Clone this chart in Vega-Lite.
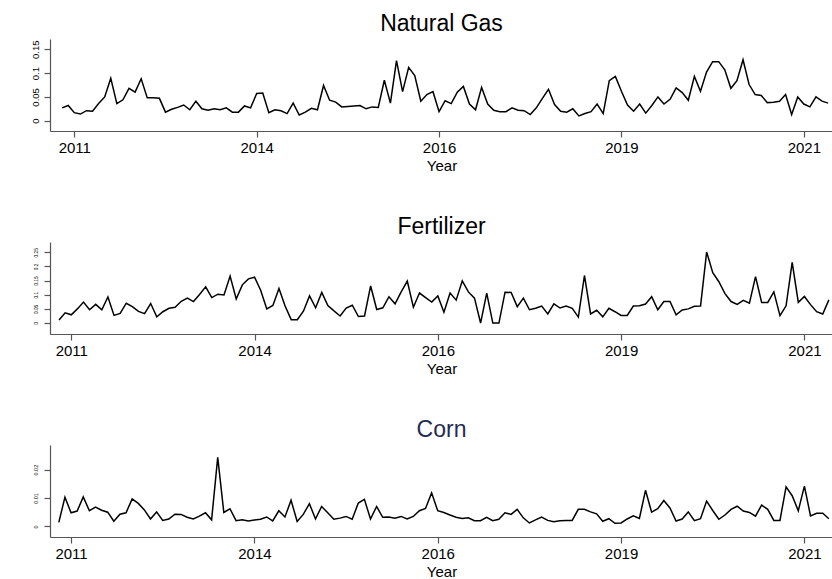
{
  "$schema": "https://vega.github.io/schema/vega-lite/v6.json",
  "padding": {"left": 29, "top": 13, "right": 0, "bottom": 0},
  "background": "white",
  "data": {"values": [
    {"year":2010.8333,"gas":0.027,"fert":0.011,"corn":0.0014},
    {"year":2010.9167,"gas":0.032,"fert":0.036,"corn":0.0103},
    {"year":2011.0,"gas":0.017,"fert":0.029,"corn":0.0048},
    {"year":2011.0833,"gas":0.014,"fert":0.050,"corn":0.0054},
    {"year":2011.1667,"gas":0.021,"fert":0.074,"corn":0.0104},
    {"year":2011.25,"gas":0.020,"fert":0.047,"corn":0.0055},
    {"year":2011.3333,"gas":0.036,"fert":0.066,"corn":0.0068},
    {"year":2011.4167,"gas":0.050,"fert":0.047,"corn":0.0057},
    {"year":2011.5,"gas":0.089,"fert":0.092,"corn":0.0050},
    {"year":2011.5833,"gas":0.036,"fert":0.027,"corn":0.0018},
    {"year":2011.6667,"gas":0.044,"fert":0.034,"corn":0.0043},
    {"year":2011.75,"gas":0.068,"fert":0.070,"corn":0.0048},
    {"year":2011.8333,"gas":0.060,"fert":0.058,"corn":0.0097},
    {"year":2011.9167,"gas":0.088,"fert":0.041,"corn":0.0081},
    {"year":2012.0,"gas":0.048,"fert":0.033,"corn":0.0058},
    {"year":2012.0833,"gas":0.048,"fert":0.069,"corn":0.0026},
    {"year":2012.1667,"gas":0.047,"fert":0.022,"corn":0.0051},
    {"year":2012.25,"gas":0.018,"fert":0.040,"corn":0.0021},
    {"year":2012.3333,"gas":0.024,"fert":0.052,"corn":0.0026},
    {"year":2012.4167,"gas":0.028,"fert":0.056,"corn":0.0043},
    {"year":2012.5,"gas":0.033,"fert":0.077,"corn":0.0042},
    {"year":2012.5833,"gas":0.023,"fert":0.088,"corn":0.0032},
    {"year":2012.6667,"gas":0.041,"fert":0.076,"corn":0.0026},
    {"year":2012.75,"gas":0.025,"fert":0.101,"corn":0.0036},
    {"year":2012.8333,"gas":0.022,"fert":0.128,"corn":0.0048},
    {"year":2012.9167,"gas":0.025,"fert":0.090,"corn":0.0023},
    {"year":2013.0,"gas":0.023,"fert":0.102,"corn":0.0243},
    {"year":2013.0833,"gas":0.027,"fert":0.099,"corn":0.0049},
    {"year":2013.1667,"gas":0.018,"fert":0.166,"corn":0.0062},
    {"year":2013.25,"gas":0.018,"fert":0.085,"corn":0.0020},
    {"year":2013.3333,"gas":0.031,"fert":0.135,"corn":0.0023},
    {"year":2013.4167,"gas":0.027,"fert":0.156,"corn":0.0019},
    {"year":2013.5,"gas":0.057,"fert":0.162,"corn":0.0022},
    {"year":2013.5833,"gas":0.058,"fert":0.116,"corn":0.0025},
    {"year":2013.6667,"gas":0.017,"fert":0.050,"corn":0.0033},
    {"year":2013.75,"gas":0.023,"fert":0.062,"corn":0.0019},
    {"year":2013.8333,"gas":0.021,"fert":0.122,"corn":0.0055},
    {"year":2013.9167,"gas":0.015,"fert":0.060,"corn":0.0033},
    {"year":2014.0,"gas":0.037,"fert":0.012,"corn":0.0092},
    {"year":2014.0833,"gas":0.012,"fert":0.012,"corn":0.0017},
    {"year":2014.1667,"gas":0.018,"fert":0.042,"corn":0.0042},
    {"year":2014.25,"gas":0.026,"fert":0.096,"corn":0.0080},
    {"year":2014.3333,"gas":0.023,"fert":0.054,"corn":0.0026},
    {"year":2014.4167,"gas":0.074,"fert":0.108,"corn":0.0070},
    {"year":2014.5,"gas":0.043,"fert":0.062,"corn":0.0048},
    {"year":2014.5833,"gas":0.039,"fert":0.043,"corn":0.0025},
    {"year":2014.6667,"gas":0.029,"fert":0.025,"corn":0.0029},
    {"year":2014.75,"gas":0.030,"fert":0.053,"corn":0.0035},
    {"year":2014.8333,"gas":0.031,"fert":0.063,"corn":0.0025},
    {"year":2014.9167,"gas":0.032,"fert":0.023,"corn":0.0082},
    {"year":2015.0,"gas":0.025,"fert":0.025,"corn":0.0095},
    {"year":2015.0833,"gas":0.029,"fert":0.131,"corn":0.0026},
    {"year":2015.1667,"gas":0.028,"fert":0.048,"corn":0.0070},
    {"year":2015.25,"gas":0.085,"fert":0.054,"corn":0.0032},
    {"year":2015.3333,"gas":0.037,"fert":0.093,"corn":0.0033},
    {"year":2015.4167,"gas":0.126,"fert":0.068,"corn":0.0029},
    {"year":2015.5,"gas":0.061,"fert":0.110,"corn":0.0035},
    {"year":2015.5833,"gas":0.112,"fert":0.148,"corn":0.0026},
    {"year":2015.6667,"gas":0.095,"fert":0.056,"corn":0.0035},
    {"year":2015.75,"gas":0.041,"fert":0.106,"corn":0.0055},
    {"year":2015.8333,"gas":0.055,"fert":0.090,"corn":0.0063},
    {"year":2015.9167,"gas":0.061,"fert":0.074,"corn":0.0118},
    {"year":2016.0,"gas":0.019,"fert":0.096,"corn":0.0055},
    {"year":2016.0833,"gas":0.042,"fert":0.038,"corn":0.0049},
    {"year":2016.1667,"gas":0.036,"fert":0.106,"corn":0.0040},
    {"year":2016.25,"gas":0.060,"fert":0.081,"corn":0.0032},
    {"year":2016.3333,"gas":0.072,"fert":0.149,"corn":0.0028},
    {"year":2016.4167,"gas":0.035,"fert":0.110,"corn":0.0030},
    {"year":2016.5,"gas":0.023,"fert":0.088,"corn":0.0020},
    {"year":2016.5833,"gas":0.070,"fert":0.000,"corn":0.0020},
    {"year":2016.6667,"gas":0.035,"fert":0.106,"corn":0.0032},
    {"year":2016.75,"gas":0.022,"fert":0.000,"corn":0.0020},
    {"year":2016.8333,"gas":0.019,"fert":0.000,"corn":0.0025},
    {"year":2016.9167,"gas":0.019,"fert":0.109,"corn":0.0048},
    {"year":2017.0,"gas":0.027,"fert":0.108,"corn":0.0042},
    {"year":2017.0833,"gas":0.022,"fert":0.058,"corn":0.0060},
    {"year":2017.1667,"gas":0.021,"fert":0.088,"corn":0.0030},
    {"year":2017.25,"gas":0.013,"fert":0.047,"corn":0.0012},
    {"year":2017.3333,"gas":0.027,"fert":0.052,"corn":0.0023},
    {"year":2017.4167,"gas":0.047,"fert":0.060,"corn":0.0033},
    {"year":2017.5,"gas":0.066,"fert":0.032,"corn":0.0021},
    {"year":2017.5833,"gas":0.034,"fert":0.068,"corn":0.0016},
    {"year":2017.6667,"gas":0.020,"fert":0.053,"corn":0.0020},
    {"year":2017.75,"gas":0.018,"fert":0.060,"corn":0.0021},
    {"year":2017.8333,"gas":0.025,"fert":0.052,"corn":0.0021},
    {"year":2017.9167,"gas":0.010,"fert":0.021,"corn":0.0060},
    {"year":2018.0,"gas":0.015,"fert":0.168,"corn":0.0060},
    {"year":2018.0833,"gas":0.019,"fert":0.032,"corn":0.0051},
    {"year":2018.1667,"gas":0.035,"fert":0.045,"corn":0.0044},
    {"year":2018.25,"gas":0.015,"fert":0.022,"corn":0.0018},
    {"year":2018.3333,"gas":0.084,"fert":0.052,"corn":0.0027},
    {"year":2018.4167,"gas":0.093,"fert":0.040,"corn":0.0011},
    {"year":2018.5,"gas":0.062,"fert":0.027,"corn":0.0012},
    {"year":2018.5833,"gas":0.033,"fert":0.027,"corn":0.0026},
    {"year":2018.6667,"gas":0.020,"fert":0.060,"corn":0.0037},
    {"year":2018.75,"gas":0.035,"fert":0.061,"corn":0.0028},
    {"year":2018.8333,"gas":0.016,"fert":0.067,"corn":0.0127},
    {"year":2018.9167,"gas":0.032,"fert":0.093,"corn":0.0050},
    {"year":2019.0,"gas":0.050,"fert":0.047,"corn":0.0062},
    {"year":2019.0833,"gas":0.035,"fert":0.076,"corn":0.0091},
    {"year":2019.1667,"gas":0.045,"fert":0.076,"corn":0.0065},
    {"year":2019.25,"gas":0.069,"fert":0.029,"corn":0.0019},
    {"year":2019.3333,"gas":0.059,"fert":0.046,"corn":0.0026},
    {"year":2019.4167,"gas":0.043,"fert":0.050,"corn":0.0051},
    {"year":2019.5,"gas":0.093,"fert":0.059,"corn":0.0020},
    {"year":2019.5833,"gas":0.062,"fert":0.060,"corn":0.0027},
    {"year":2019.6667,"gas":0.102,"fert":0.251,"corn":0.0089},
    {"year":2019.75,"gas":0.124,"fert":0.178,"corn":0.0056},
    {"year":2019.8333,"gas":0.124,"fert":0.146,"corn":0.0025},
    {"year":2019.9167,"gas":0.107,"fert":0.104,"corn":0.0040},
    {"year":2020.0,"gas":0.068,"fert":0.076,"corn":0.0060},
    {"year":2020.0833,"gas":0.084,"fert":0.066,"corn":0.0071},
    {"year":2020.1667,"gas":0.128,"fert":0.080,"corn":0.0054},
    {"year":2020.25,"gas":0.076,"fert":0.070,"corn":0.0049},
    {"year":2020.3333,"gas":0.055,"fert":0.164,"corn":0.0036},
    {"year":2020.4167,"gas":0.053,"fert":0.073,"corn":0.0075},
    {"year":2020.5,"gas":0.038,"fert":0.073,"corn":0.0060},
    {"year":2020.5833,"gas":0.039,"fert":0.110,"corn":0.0021},
    {"year":2020.6667,"gas":0.041,"fert":0.026,"corn":0.0021},
    {"year":2020.75,"gas":0.055,"fert":0.061,"corn":0.0139},
    {"year":2020.8333,"gas":0.013,"fert":0.214,"corn":0.0108},
    {"year":2020.9167,"gas":0.050,"fert":0.073,"corn":0.0055},
    {"year":2021.0,"gas":0.035,"fert":0.094,"corn":0.0142},
    {"year":2021.0833,"gas":0.029,"fert":0.065,"corn":0.0037},
    {"year":2021.1667,"gas":0.050,"fert":0.040,"corn":0.0046},
    {"year":2021.25,"gas":0.041,"fert":0.032,"corn":0.0046},
    {"year":2021.3333,"gas":0.037,"fert":0.082,"corn":0.0027}
  ]},
  "spacing": 43,
  "vconcat": [
    {
      "width": 783,
      "height": 92,
      "title": {"text": "Natural Gas"},
      "mark": {"type": "line", "color": "black", "strokeWidth": 1.5},
      "encoding": {
        "x": {"field": "year", "type": "quantitative",
              "scale": {"domain": [2010.667, 2021.40], "nice": false, "zero": false},
              "axis": {"values": [2011, 2013.5, 2016, 2018.5, 2021], "format": ".0f", "title": "Year"}},
        "y": {"field": "gas", "type": "quantitative",
              "scale": {"domain": [-0.0216, 0.1716], "nice": false, "zero": false},
              "axis": {"values": [0, 0.05, 0.1, 0.15], "format": ".2~f", "labelFontSize": 9.5, "labelPadding": 4}}
      }
    },
    {
      "width": 783,
      "height": 92,
      "title": {"text": "Fertilizer"},
      "mark": {"type": "line", "color": "black", "strokeWidth": 1.5},
      "encoding": {
        "x": {"field": "year", "type": "quantitative",
              "scale": {"domain": [2010.71, 2021.39], "nice": false, "zero": false},
              "axis": {"values": [2011, 2013.5, 2016, 2018.5, 2021], "format": ".0f", "title": "Year"}},
        "y": {"field": "fert", "type": "quantitative",
              "scale": {"domain": [-0.0387, 0.2863], "nice": false, "zero": false},
              "axis": {"values": [0, 0.05, 0.1, 0.15, 0.2, 0.25], "format": ".2~f", "labelFontSize": 4.8, "labelPadding": 6}}
      }
    },
    {
      "width": 783,
      "height": 92,
      "title": {"text": "Corn", "color": "#1f2d52"},
      "mark": {"type": "line", "color": "black", "strokeWidth": 1.5},
      "encoding": {
        "x": {"field": "year", "type": "quantitative",
              "scale": {"domain": [2010.713, 2021.39], "nice": false, "zero": false},
              "axis": {"values": [2011, 2013.5, 2016, 2018.5, 2021], "format": ".0f", "title": "Year"}},
        "y": {"field": "corn", "type": "quantitative",
              "scale": {"domain": [-0.00375, 0.02867], "nice": false, "zero": false},
              "axis": {"values": [0, 0.01, 0.02], "format": ".2~f", "labelFontSize": 5.5, "labelPadding": 6}}
      }
    }
  ],
  "config": {
    "view": {"stroke": null},
    "font": "Liberation Sans",
    "title": {"fontSize": 23, "fontWeight": "normal", "font": "Liberation Sans", "anchor": "middle", "baseline": "alphabetic", "offset": 3, "color": "black"},
    "axis": {"grid": false, "domainColor": "#555555", "tickColor": "#555555", "domainWidth": 1.2, "tickWidth": 1.2, "labelColor": "black", "titleColor": "black", "labelFont": "Liberation Sans", "titleFont": "Liberation Sans", "titleFontWeight": "normal", "tickSize": 6},
    "axisX": {"labelFontSize": 15, "labelPadding": 3, "titleFontSize": 15, "titlePadding": 3, "labelFlush": false},
    "axisY": {"labelAngle": 270, "title": null, "labelFlush": false}
  }
}
